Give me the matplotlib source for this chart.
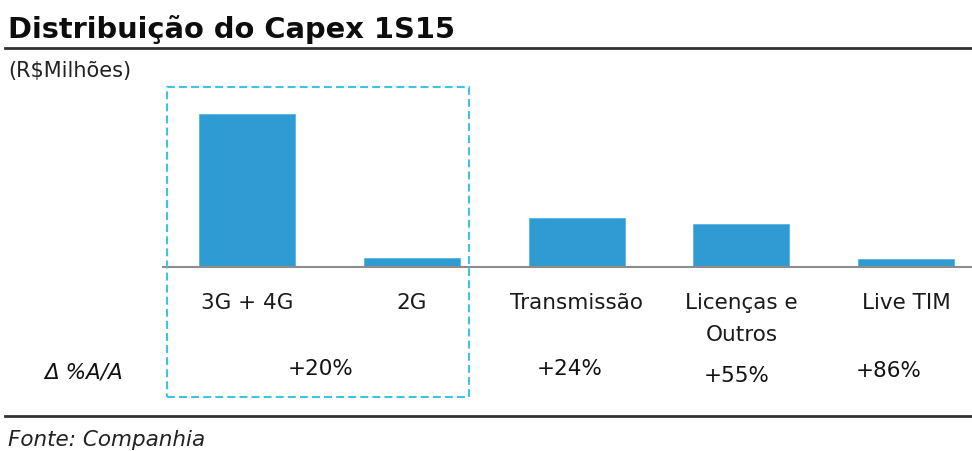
import matplotlib
matplotlib.use("Agg")
import matplotlib.pyplot as plt
from matplotlib.patches import Rectangle
from matplotlib.lines import Line2D

categories = ["3G + 4G", "2G", "Transmissão", "Licenças e\nOutros", "Live TIM"]
values = [1530, 90, 490, 430, 85]
growth_labels = ["+20%", "+24%", "+55%", "+86%"]

W, H = 972, 451
fig = plt.figure(figsize=(W / 100, H / 100), dpi=100)
plt.rcParams['font.family'] = ['DejaVu Sans']

def fx(px):
    return px / W

def fy(py):
    return 1 - py / H

bar_color = "#2e9bd3"
ax = fig.add_axes([fx(163), fy(267), fx(972) - fx(163), fy(90) - fy(267)])
x = list(range(len(categories)))
ax.bar(x, values, width=0.583, color=bar_color, edgecolor="#5ab4e2", linewidth=0.6, zorder=2)
ax.set_xlim(-0.51, 4.40)
ax.set_ylim(0, values[0] * 177 / 153)
for s in ["top", "right", "left"]:
    ax.spines[s].set_visible(False)
ax.spines["bottom"].set_color("#8c8c8c")
ax.spines["bottom"].set_linewidth(1.5)
ax.set_yticks([])
ax.set_xticks(x)
ax.set_xticklabels(categories, fontsize=15.5, color="#1a1a1a", linespacing=1.75)
ax.tick_params(axis="x", length=0, pad=19)
ax.patch.set_alpha(0)

# Title
fig.text(fx(8), fy(29), "Distribuição do Capex 1S15", fontsize=20.8, fontweight="bold",
         color="#0d0d0d", va="center", ha="left")
fig.add_artist(Line2D([fx(5), fx(972)], [fy(48), fy(48)], color="#333333", linewidth=2))
fig.text(fx(8), fy(71), "(R$Milhões)", fontsize=15, color="#222222", va="center", ha="left")

# Growth row
fig.text(fx(84), fy(373), "Δ %A/A", fontsize=15.5, style="italic", color="#111111",
         va="center", ha="center")
growth_x = [321, 570, 737, 889]
growth_y = [369, 369, 376, 371]
for lbl, gx, gy in zip(growth_labels, growth_x, growth_y):
    fig.text(fx(gx), fy(gy), lbl, fontsize=15.5, color="#111111", va="center", ha="center")

# Dashed box
fig.add_artist(Rectangle((fx(167), fy(397)), fx(469) - fx(167), fy(87) - fy(397),
                         fill=False, edgecolor="#3cc4e0", linestyle=(0, (3.8, 2)), linewidth=1.5))

# Bottom line and source
fig.add_artist(Line2D([fx(5), fx(972)], [fy(416), fy(416)], color="#333333", linewidth=2))
fig.text(fx(8), fy(440), "Fonte: Companhia", fontsize=15.5, style="italic", color="#222222",
         va="center", ha="left")

fig.savefig("out.png", dpi=100)
